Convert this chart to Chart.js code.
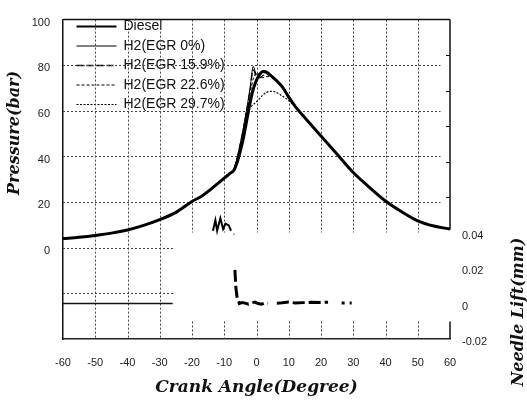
<!DOCTYPE html>
<html>
<head>
<meta charset="utf-8">
<script src="https://cdn.jsdelivr.net/npm/chart.js@4.4.1/dist/chart.umd.min.js"></script>
<style>
  html, body { margin: 0; padding: 0; background: #fff; }
  canvas { display: block; }
</style>
</head>
<body>
<canvas id="pressureChart" width="527" height="402"></canvas>
<script>
const angle = [-60, -55, -50, -45, -40, -35, -30, -25, -20, -17, -15, -13, -10, -8, -7, -6, -5, -4, -3, -2, -1, 0, 1, 2, 3, 4, 5, 6, 8, 10, 12, 15, 20, 25, 30, 35, 40, 45, 50, 55, 60];

// cylinder pressure (bar)
const diesel   = [4, 4.6, 5.4, 6.4, 7.8, 9.8, 12.3, 15.5, 20.3, 22.6, 24.7, 27, 30.5, 32.8, 34, 37.5, 42.5, 48.5, 56, 63.5, 69.5, 73.5, 76, 77.2, 77, 76, 74.8, 73.5, 70.5, 66, 62, 57, 49, 41, 33, 26.5, 20.5, 15.8, 11.8, 9.5, 8.2];
const h2Egr0   = [4, 4.6, 5.4, 6.4, 7.8, 9.8, 12.3, 15.5, 20.3, 22.6, 24.7, 27, 30.5, 32.8, 34.5, 39.5, 46, 53, 61, 70, 79.5, 76, 76.5, 77.5, 77.5, 76.5, 75.3, 74, 71, 66.5, 62, 57, 49, 41, 33, 26.5, 20.5, 15.8, 11.8, 9.5, 8.2];
const h2Egr159 = [4, 4.6, 5.4, 6.4, 7.8, 9.8, 12.3, 15.5, 20.3, 22.6, 24.7, 27, 30.5, 32.8, 34.5, 39, 45.5, 52.5, 60.5, 69, 78, 75, 74.5, 75.5, 76, 75.5, 74.5, 73.5, 70.5, 66, 62, 57, 49, 41, 33, 26.5, 20.5, 15.8, 11.8, 9.5, 8.2];
const h2Egr226 = [4, 4.6, 5.4, 6.4, 7.8, 9.8, 12.3, 15.5, 20.3, 22.6, 24.7, 27, 30.5, 32.8, 34.3, 38.8, 45, 52, 59.5, 67.5, 74, 76.5, 75, 74.5, 75, 75, 74.3, 73.3, 70.5, 66, 62, 57, 49, 41, 33, 26.5, 20.5, 15.8, 11.8, 9.5, 8.2];
const h2Egr297 = [4, 4.6, 5.4, 6.4, 7.8, 9.8, 12.3, 15.5, 20.3, 22.6, 24.7, 27, 30.5, 32.8, 34.3, 38.8, 45, 52, 60, 61.5, 62.8, 64, 65.5, 67, 68, 68.5, 68.5, 68.2, 66.5, 64.5, 61.8, 57, 49, 41, 33, 26.5, 20.5, 15.8, 11.8, 9.5, 8.2];

// needle lift (mm), several traces
const liftAngle1 = [-60, -26];
const lift1      = [0, 0];
const liftAngle2 = [-13.5, -12.75, -12.2, -11.2, -10.35, -9.6, -8.6, -7.9, -7.5, -7.1, -6.9];
const lift2      = [0.041, 0.047, 0.041, 0.048, 0.042, 0.045, 0.044, 0.041, null, 0.039, 0.039];
const liftAngle3 = [-6.7, -6.4, -6.0, -5.3, -4.5, -3.5, -2.5, -1.5, -0.5, 0.5, 1.5, 2.5, 3.6, 4.5, 6.3, 8, 10, 12, 14.5, 17, 20, 22.2];
const lift3      = [0.019, 0.009, 0.003, 0, 0.0006, 0.0002, -0.0004, 0.0004, 0.0008, 0, -0.0004, 0.0003, 0.0001, null, 0.0002, 0.0004, 0.0008, 0.0003, 0.0005, 0.0007, 0.0006, 0.0007];
const liftAngle4 = [26.4, 29.5];
const lift4      = [0.0003, 0.0003];

const seriesNames = ['Diesel', 'H2(EGR 0%)', 'H2(EGR 15.9%)', 'H2(EGR 22.6%)', 'H2(EGR 29.7%)'];

// grid / tick values
const pressureGrid = [20, 40, 60, 80];
const lowGrid = [0, -20];
const angleGrid = [-50, -40, -30, -20, -10, 0, 10, 20, 30, 40, 50];
const liftTicks = [0.06, 0.08, 0.10, 0.12, 0.14];

const pts = (xs, ys) => xs.map((a, i) => ({ x: a, y: ys[i] }));

Chart.defaults.font.family = "'Liberation Sans', Arial, sans-serif";
Chart.defaults.color = '#222';

// dotted grid + broken frame like the scanned figure
const sketchGrid = {
    id: 'sketchGrid',
    beforeDatasetsDraw(chart) {
        const { ctx, chartArea: area, scales: { x, y, y2 } } = chart;
        const line = (x1, y1, x2, y2_) => { ctx.beginPath(); ctx.moveTo(x1, y1); ctx.lineTo(x2, y2_); ctx.stroke(); };
        const px = v => Math.round(x.getPixelForValue(v)) + 0.5;
        const py = v => Math.round(y.getPixelForValue(v)) + 0.5;
        const pl = v => Math.round(y2.getPixelForValue(v)) + 0.5;
        ctx.save();
        ctx.strokeStyle = '#444';
        ctx.lineWidth = 1;
        ctx.setLineDash([2, 2]);
        pressureGrid.forEach(p => line(area.left, py(p), px(57), py(p)));
        lowGrid.forEach(p => line(area.left, py(p), px(-26), py(p)));
        angleGrid.forEach(a => {
            if (a <= -30) {
                line(px(a), area.top, px(a), area.bottom);
            } else {
                line(px(a), area.top, px(a), py(7));
                line(px(a), pl(-0.01), px(a), area.bottom);
            }
        });
        ctx.setLineDash([]);
        ctx.strokeStyle = '#111';
        ctx.lineWidth = 1.5;
        line(area.left, area.top, area.right, area.top);
        line(area.right, area.top, area.right, py(8));
        line(area.right, pl(-0.01), area.right, area.bottom);
        ctx.lineWidth = 1;
        liftTicks.forEach(v => line(area.right - 4, pl(v), area.right, pl(v)));
        ctx.restore();
    }
};

const sideTitles = {
    id: 'sideTitles',
    afterDraw(chart) {
        const { ctx } = chart;
        ctx.save();
        ctx.fillStyle = '#111';
        ctx.font = "italic bold 16px 'DejaVu Serif'";
        ctx.textAlign = 'center';
        ctx.textBaseline = 'middle';
        ctx.translate(15, 133);
        ctx.rotate(-Math.PI / 2);
        ctx.fillText('Pressure(bar)', 0, 0);
        ctx.restore();

        ctx.save();
        ctx.fillStyle = '#111';
        ctx.font = "italic bold 16px 'DejaVu Serif'";
        ctx.textAlign = 'center';
        ctx.textBaseline = 'middle';
        ctx.translate(519, 312);
        ctx.rotate(-Math.PI / 2);
        ctx.fillText('Needle Lift(mm)', 0, 0);
        ctx.restore();
    }
};

// move the in-plot legend a little off the frame corner
const legendNudge = {
    id: 'legendNudge',
    afterLayout(chart) {
        if (chart.legend) {
            chart.legend.left += 8;
            chart.legend.top += 14;
        }
    }
};

const pressureStyle = [
    { borderWidth: 3, borderDash: [] },
    { borderWidth: 1, borderDash: [] },
    { borderWidth: 1.3, borderDash: [7, 3] },
    { borderWidth: 1, borderDash: [3, 2] },
    { borderWidth: 1.2, borderDash: [2, 1.5] }
];
const pressureData = [diesel, h2Egr0, h2Egr159, h2Egr226, h2Egr297];

const datasets = pressureData.map((vals, i) => ({
    label: seriesNames[i],
    data: pts(angle, vals),
    yAxisID: 'y',
    borderColor: '#000',
    backgroundColor: '#000',
    borderWidth: pressureStyle[i].borderWidth,
    borderDash: pressureStyle[i].borderDash,
    pointRadius: 0,
    cubicInterpolationMode: 'monotone'
}));

datasets.push(
    { label: 'lift1', data: pts(liftAngle1, lift1), yAxisID: 'y2', borderColor: '#111', borderWidth: 1.5, pointRadius: 0 },
    { label: 'lift2', data: pts(liftAngle2, lift2), yAxisID: 'y2', borderColor: '#000', borderWidth: 2, pointRadius: 0 },
    { label: 'lift3', data: pts(liftAngle3, lift3), yAxisID: 'y2', borderColor: '#000', borderWidth: 3, borderDash: [12, 4], pointRadius: 0 },
    { label: 'lift4', data: pts(liftAngle4, lift4), yAxisID: 'y2', borderColor: '#000', borderWidth: 3, borderDash: [3, 5], pointRadius: 0 }
);

new Chart(document.getElementById('pressureChart'), {
    type: 'line',
    data: { datasets },
    options: {
        responsive: false,
        animation: false,
        devicePixelRatio: 1,
        layout: { padding: { top: 8, left: 0, right: 0, bottom: 0 } },
        plugins: {
            legend: {
                position: 'chartArea',
                align: 'start',
                labels: {
                    usePointStyle: true,
                    pointStyleWidth: 40,
                    font: { size: 14 },
                    color: '#111',
                    padding: 5.5,
                    // legend samples take the line style of each pressure trace
                    generateLabels: chart => chart.data.datasets.slice(0, 5).map((ds, i) => ({
                        text: ds.label,
                        datasetIndex: i,
                        hidden: false,
                        pointStyle: 'line',
                        strokeStyle: ds.borderColor,
                        fillStyle: ds.borderColor,
                        fontColor: '#111',
                        lineWidth: Math.min(ds.borderWidth, 2),
                        lineDash: ds.borderDash
                    }))
                }
            },
            tooltip: { enabled: false }
        },
        scales: {
            x: {
                type: 'linear',
                min: -60,
                max: 60,
                ticks: {
                    stepSize: 10,
                    padding: 17,
                    font: { size: 11 },
                    callback: v => String(v)
                },
                grid: { display: false, drawTicks: false },
                border: { display: true, color: '#222', width: 1.5 },
                title: {
                    display: true,
                    text: 'Crank Angle(Degree)',
                    color: '#111',
                    font: { family: "'DejaVu Serif'", size: 17, style: 'italic', weight: 'bold' },
                    padding: { top: 0, bottom: 4 }
                },
                afterFit: s => { s.height = 63; }
            },
            y: {
                position: 'left',
                min: -40,
                max: 100,
                ticks: {
                    stepSize: 20,
                    padding: 13,
                    labelOffset: 3,
                    font: { size: 11 },
                    callback: v => (v >= 0 ? String(v) : '')
                },
                grid: { display: false, drawTicks: false },
                border: { display: true, color: '#111', width: 1.5 },
                afterFit: s => { s.width = 63; }
            },
            y2: {
                position: 'right',
                min: -0.02,
                max: 0.16,
                ticks: {
                    stepSize: 0.02,
                    padding: 12,
                    labelOffset: 3,
                    font: { size: 11 },
                    callback: v => (v > 0.05 ? '' : (Math.abs(v) < 1e-9 ? '0' : v.toFixed(2)))
                },
                grid: { display: false, drawTicks: false },
                border: { display: false },
                afterFit: s => { s.width = 77; }
            }
        }
    },
    plugins: [sketchGrid, sideTitles, legendNudge]
});
</script>
</body>
</html>
